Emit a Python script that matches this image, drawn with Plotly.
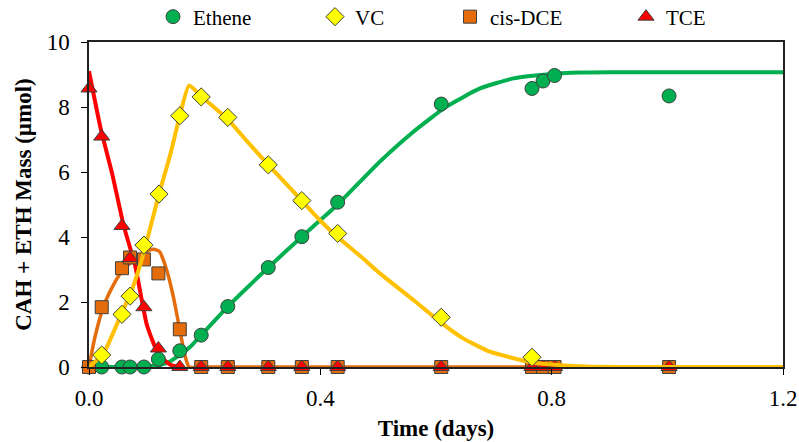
import plotly.graph_objects as go

# ---------------- data ----------------
# measured data
eth_t = [0.0, 0.022, 0.057, 0.071, 0.095, 0.12, 0.157, 0.194, 0.24, 0.31, 0.368, 0.43, 0.609, 0.766, 0.785, 0.805, 1.003]
eth_y = [0.0, 0.0, 0.0, 0.0, 0.0, 0.24, 0.5, 0.98, 1.86, 3.06, 4.01, 5.07, 8.09, 8.57, 8.8, 8.97, 8.34]

vc_t = [0.022, 0.057, 0.071, 0.095, 0.121, 0.157, 0.194, 0.24, 0.31, 0.368, 0.43, 0.609, 0.766]
vc_y = [0.37, 1.62, 2.18, 3.75, 5.32, 7.73, 8.31, 7.68, 6.22, 5.12, 4.11, 1.53, 0.3]

dce_t = [0.0, 0.022, 0.057, 0.071, 0.095, 0.12, 0.157, 0.194, 0.24, 0.31, 0.368, 0.43, 0.609, 0.766, 0.785, 0.805, 1.003]
dce_y = [0.0, 1.84, 3.04, 3.37, 3.31, 2.88, 1.16, 0.0, 0.0, 0.0, 0.0, 0.0, 0.0, 0.0, 0.0, 0.0, 0.0]

tce_t = [0.0, 0.022, 0.057, 0.071, 0.095, 0.12, 0.157, 0.194, 0.24, 0.31, 0.368, 0.43, 0.609, 0.766, 0.785, 0.805, 1.003]
tce_y = [8.57, 7.09, 4.34, 3.35, 1.84, 0.57, 0.0, 0.0, 0.0, 0.0, 0.0, 0.0, 0.0, 0.0, 0.0, 0.0, 0.0]

# model curves (traced)
eth_mt = [0.0, 0.05, 0.1, 0.123, 0.14, 0.157, 0.175, 0.194, 0.24, 0.31, 0.368, 0.4, 0.43, 0.503, 0.561, 0.618, 0.676, 0.734, 0.791, 0.849, 0.9, 1.2]
eth_my = [0.0, 0.0, 0.02, 0.06, 0.17, 0.37, 0.62, 0.98, 1.86, 3.06, 4.01, 4.52, 5.0, 6.32, 7.24, 8.01, 8.57, 8.88, 9.0, 9.06, 9.07, 9.07]

vc_mt = [0.0, 0.025, 0.054, 0.074, 0.091, 0.105, 0.121, 0.14, 0.157, 0.173, 0.194, 0.24, 0.273, 0.31, 0.368, 0.4, 0.43, 0.47, 0.503, 0.561, 0.607, 0.647, 0.693, 0.734, 0.768, 0.82, 0.87, 0.95, 1.2]
vc_my = [0.0, 0.42, 1.55, 2.37, 3.29, 4.22, 5.32, 6.5, 7.73, 8.66, 8.33, 7.62, 6.95, 6.22, 5.12, 4.5, 4.0, 3.4, 2.88, 2.06, 1.39, 0.88, 0.47, 0.27, 0.13, 0.05, 0.01, 0.0, 0.0]

dce_mt = [0.0, 0.01, 0.025, 0.04, 0.055, 0.07, 0.085, 0.1, 0.112, 0.122, 0.134, 0.146, 0.157, 0.166, 0.173, 0.2, 1.2]
dce_my = [0.0, 0.9, 1.86, 2.45, 2.9, 3.18, 3.4, 3.57, 3.62, 3.55, 3.0, 2.15, 1.14, 0.35, 0.0, 0.0, 0.0]

tce_mt = [0.0, 0.02, 0.04, 0.06, 0.08, 0.1, 0.12, 0.14, 0.155]
tce_my = [9.1, 7.35, 5.95, 4.35, 3.1, 1.3, 0.4, 0.08, 0.0]

x_ticks = [0.0, 0.4, 0.8, 1.2]
x_tick_text = ["0.0", "0.4", "0.8", "1.2"]
y_ticks = [0, 2, 4, 6, 8, 10]

# ---------------- styling ----------------
GREEN = "#00B050"
YELLOW_LINE = "#FFC000"
YELLOW_FILL = "#FFFF00"
ORANGE = "#E46C0A"
RED = "#FF0000"
EDGE = "#404040"
FONT = "Liberation Serif"

fig = go.Figure()

def curve(t, y, color, width=4):
    fig.add_trace(go.Scatter(x=t, y=y, mode="lines", showlegend=False, hoverinfo="skip",
                             cliponaxis=False,
                             line=dict(color=color, width=width, shape="spline", smoothing=0.5)))

def points(t, y, name, symbol, fill, size, legend):
    fig.add_trace(go.Scatter(x=t, y=y, mode="markers", name=name, legend=legend,
                             cliponaxis=False,
                             marker=dict(symbol=symbol, color=fill, size=size,
                                         line=dict(color=EDGE, width=1))))

curve(eth_mt, eth_my, GREEN)
curve(dce_mt, dce_my, ORANGE, 3.5)
curve(tce_mt, tce_my, RED)
points(eth_t, eth_y, "Ethene", "circle", GREEN, 14, "legend")
points(dce_t, dce_y, "cis-DCE", "square", ORANGE, 13, "legend3")
points(tce_t, tce_y, "TCE", "triangle-up", RED, 14, "legend4")
curve(vc_mt, vc_my, YELLOW_LINE)
points(vc_t, vc_y, "VC", "diamond", YELLOW_FILL, 14, "legend2")

L, R, T, B = 89, 16, 42, 75
W, H = 799, 442
pw = W - L - R
ph = H - T - B

def lx(px):
    return (px - L) / pw

ly = 1 + (T - 17) / ph
leg_common = dict(orientation="h", yanchor="middle", xanchor="left", y=ly,
                  font=dict(family=FONT, size=21, color="black"),
                  bgcolor="rgba(0,0,0,0)", borderwidth=0, itemclick=False)

fig.update_layout(
    width=W, height=H,
    margin=dict(l=L, r=R, t=T, b=B, autoexpand=False),
    paper_bgcolor="white", plot_bgcolor="white",
    font=dict(family=FONT, color="black"),
    legend=dict(x=lx(153), **leg_common),
    legend2=dict(x=lx(315), **leg_common),
    legend3=dict(x=lx(450), **leg_common),
    legend4=dict(x=lx(626), **leg_common),
    xaxis=dict(range=[0, 1.2], tickvals=x_ticks, ticktext=x_tick_text,
               ticks="outside", ticklen=6, tickwidth=1, tickcolor="black",
               ticklabelstandoff=4,
               showline=True, linecolor="#222", linewidth=1.5, mirror=True,
               showgrid=False, zeroline=False,
               tickfont=dict(family=FONT, size=23, color="black"),
               title=dict(text="<b>Time (days)</b>", standoff=10,
                          font=dict(family=FONT, size=23, color="black"))),
    yaxis=dict(range=[0, 10], tickvals=y_ticks,
               ticks="outside", ticklen=6, tickwidth=1, tickcolor="black",
               ticklabelstandoff=7,
               showline=True, linecolor="#222", linewidth=1.5, mirror=True,
               showgrid=False, zeroline=False,
               tickfont=dict(family=FONT, size=23, color="black"),
               title=dict(text="<b>CAH + ETH Mass (µmol)</b>", standoff=9,
                          font=dict(family=FONT, size=23, color="black"))),
)

fig.write_html("out.html")
